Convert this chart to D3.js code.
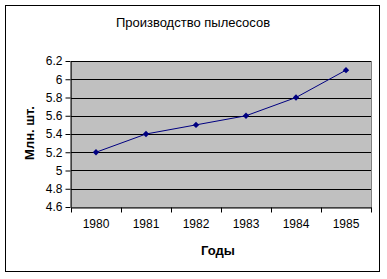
<!DOCTYPE html>
<head>
  <meta charset="utf-8">
  <style>
    body { margin: 0; background: #fff; }
    svg text { font-family: Arial, "Liberation Sans", sans-serif; fill: #000; }
    svg .tick text { font-size: 12px; }
    svg .grid { stroke: #000; stroke-width: 1px; shape-rendering: crispEdges; }
  </style>
</head>
<body>
<script src="https://d3js.org/d3.v7.min.js"></script>
<script>
  var years = ["1980", "1981", "1982", "1983", "1984", "1985"];
  var values = [5.2, 5.4, 5.5, 5.6, 5.8, 6.1];
  var yTicks = [4.6, 4.8, 5, 5.2, 5.4, 5.6, 5.8, 6, 6.2];

  var W = 387, H = 279;
  var plot = { left: 71, right: 371, top: 61, bottom: 207 };

  var svg = d3.select("body").append("svg")
      .attr("width", W)
      .attr("height", H);

  // outer frame
  svg.append("rect")
      .attr("x", 5.5).attr("y", 5.5)
      .attr("width", 374).attr("height", 266)
      .style("fill", "#fff")
      .style("stroke", "#000")
      .style("stroke-width", 1);

  var xScale = d3.scaleBand().domain(years).range([plot.left, plot.right]);
  var yScale = d3.scaleLinear().domain([4.6, 6.2]).range([plot.bottom, plot.top]);

  // plot area
  svg.append("rect")
      .attr("x", plot.left).attr("y", plot.top)
      .attr("width", plot.right - plot.left)
      .attr("height", plot.bottom - plot.top)
      .style("fill", "#C0C0C0")
      .style("stroke", "#808080")
      .style("shape-rendering", "crispEdges");

  // horizontal grid lines
  svg.selectAll("line.grid")
    .data(yTicks.slice(1))
    .enter().append("line")
      .classed("grid", true)
      .attr("x1", plot.left).attr("x2", plot.right)
      .attr("y1", function (d) { return Math.round(yScale(d)) + 0.5; })
      .attr("y2", function (d) { return Math.round(yScale(d)) + 0.5; });

  // y axis
  var yAxis = d3.axisLeft(yScale)
      .tickValues(yTicks)
      .tickSize(5)
      .tickSizeOuter(0)
      .tickPadding(3)
      .tickFormat(function (d) { return d3.format("")(+d.toFixed(1)); });

  var ya = svg.append("g")
      .attr("transform", "translate(" + (plot.left - 0.5) + ",0)")
      .call(yAxis);

  // x axis: ticks between categories
  var xAxis = d3.axisBottom(xScale).tickSize(0).tickPadding(12);
  var xa = svg.append("g")
      .attr("transform", "translate(0," + (plot.bottom + 0.5) + ")")
      .call(xAxis);

  var bounds = years.map(function (y) { return xScale(y); }).concat([plot.right]);
  xa.selectAll("line.sep")
    .data(bounds)
    .enter().append("line")
      .attr("x1", function (d) { return Math.round(d) + 0.5; })
      .attr("x2", function (d) { return Math.round(d) + 0.5; })
      .attr("y1", 0).attr("y2", 5)
      .style("stroke", "#000");

  svg.selectAll(".domain").style("stroke", "#000");

  // line + markers
  var line = d3.line()
      .x(function (d, i) { return xScale(years[i]) + xScale.bandwidth() / 2; })
      .y(function (d) { return yScale(d); });

  svg.append("path")
      .attr("d", line(values))
      .style("fill", "none")
      .style("stroke", "#000080")
      .style("stroke-width", 1);

  svg.selectAll("path.marker")
    .data(values)
    .enter().append("path")
      .attr("transform", function (d, i) {
        return "translate(" + (xScale(years[i]) + xScale.bandwidth() / 2) + "," + yScale(d) + ")";
      })
      .attr("d", d3.symbol().type(d3.symbolDiamond2).size(26))
      .style("fill", "#000080");

  // titles
  svg.append("text")
      .attr("x", 193).attr("y", 27)
      .attr("text-anchor", "middle")
      .style("font-size", "13px")
      .text("Производство пылесосов");

  svg.append("text")
      .attr("x", 218).attr("y", 255)
      .attr("text-anchor", "middle")
      .style("font-size", "13px")
      .style("font-weight", "bold")
      .text("Годы");

  svg.append("text")
      .attr("transform", "translate(34,133) rotate(-90)")
      .attr("text-anchor", "middle")
      .style("font-size", "13px")
      .style("font-weight", "bold")
      .text("Млн. шт.");
</script>
</body>
</html>
